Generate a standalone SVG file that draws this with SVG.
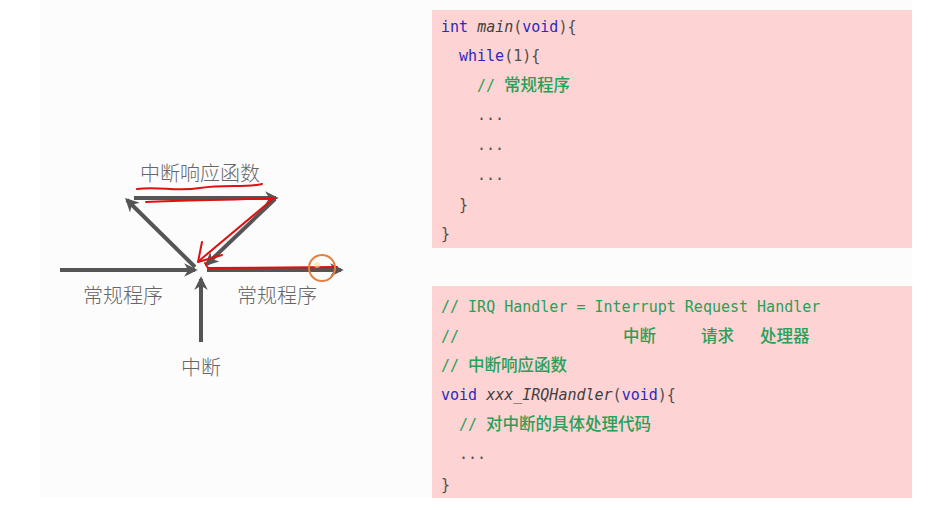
<svg xmlns="http://www.w3.org/2000/svg" width="938" height="515" viewBox="0 0 938 515">
<style>
.lbl{font-family:"Noto Sans CJK SC","Noto Sans",sans-serif;font-size:20px;fill:#666;font-weight:300}
.code{font-family:"DejaVu Sans Mono","Liberation Mono","Noto Sans CJK SC",monospace;font-size:15px;fill:#4e4e4e}
.kw{fill:#2a2ac0}
.cm{fill:#27a058}
.it{font-style:italic;fill:#404040}
.cjk{font-family:"Noto Sans CJK SC",sans-serif;font-size:16.5px;font-weight:500}
.g{stroke:#555;stroke-width:4;fill:none;marker-end:url(#ah)}
.r{stroke:#e01010;stroke-width:2;fill:none;stroke-linecap:round;stroke-linejoin:round}
.box{fill:#fdd3d3}
</style>
<defs>
<marker id="ah" viewBox="0 0 10 10" refX="8" refY="5" markerWidth="3.4" markerHeight="3.4" orient="auto" markerUnits="strokeWidth">
<path d="M0,0 L10,5 L0,10 L3,5 Z" fill="#555"/>
</marker>
</defs>
<rect x="0" y="0" width="938" height="515" fill="#ffffff"/>
<rect x="40" y="0" width="872" height="497" fill="#fdfcfd"/>

<g id="connectors">
<line class="g" x1="60" y1="270" x2="195" y2="270"/>
<line class="g" x1="207" y1="270" x2="341" y2="270"/>
<line class="g" x1="201" y1="342" x2="201" y2="279"/>
<line class="g" x1="195" y1="267" x2="127" y2="200"/>
<line class="g" x1="134" y1="198" x2="276" y2="198"/>
<line class="g" x1="275" y1="199" x2="207" y2="264"/>
</g>

<g id="annotations">
<path class="r" d="M137,189 C160,186 175,192 200,188 C225,184 245,188 262,184"/>
<path class="r" d="M146,202 C190,200 235,200 274,198 L200,260"/>
<path class="r" d="M202,242 L198,262 L222,255"/>
<path class="r" d="M205,263 L208,268 L337,267"/>
<circle cx="322" cy="268" r="13" fill="none" stroke="#e3803f" stroke-width="2"/>
<circle cx="317" cy="265" r="3" fill="#f5e08a" opacity="0.6"/>
</g>

<g id="node-handler"><text class="lbl" x="140" y="181">中断响应函数</text></g>
<g id="node-main-left"><text class="lbl" x="83" y="303">常规程序</text></g>
<g id="node-main-right"><text class="lbl" x="237" y="303">常规程序</text></g>
<g id="node-irq"><text class="lbl" x="181" y="375">中断</text></g>

<g id="code-main">
<rect class="box" x="432" y="10" width="480" height="238"/>
<text class="code" x="441" y="32"><tspan class="kw">int</tspan> <tspan class="it">main</tspan>(<tspan class="kw">void</tspan>){</text>
<text class="code" x="459" y="61"><tspan class="kw">while</tspan>(1){</text>
<text class="code cm" x="477" y="91">// <tspan class="cjk">常规程序</tspan></text>
<text class="code" x="477" y="120">...</text>
<text class="code" x="477" y="150">...</text>
<text class="code" x="477" y="180">...</text>
<text class="code" x="459" y="210">}</text>
<text class="code" x="441" y="239">}</text>
</g>

<g id="code-handler">
<rect class="box" x="432" y="286" width="480" height="212"/>
<text class="code cm" x="441" y="312">// IRQ Handler = Interrupt Request Handler</text>
<text class="code cm" x="441" y="342">//</text>
<text class="code cm cjk" x="623" y="342">中断</text>
<text class="code cm cjk" x="701" y="342">请求</text>
<text class="code cm cjk" x="760" y="342">处理器</text>
<text class="code cm" x="441" y="371">// <tspan class="cjk">中断响应函数</tspan></text>
<text class="code" x="441" y="400"><tspan class="kw">void</tspan> <tspan class="it">xxx_IRQHandler</tspan>(<tspan class="kw">void</tspan>){</text>
<text class="code cm" x="459" y="430">// <tspan class="cjk">对中断的具体处理代码</tspan></text>
<text class="code" x="459" y="459">...</text>
<text class="code" x="441" y="490">}</text>
</g>
</svg>
